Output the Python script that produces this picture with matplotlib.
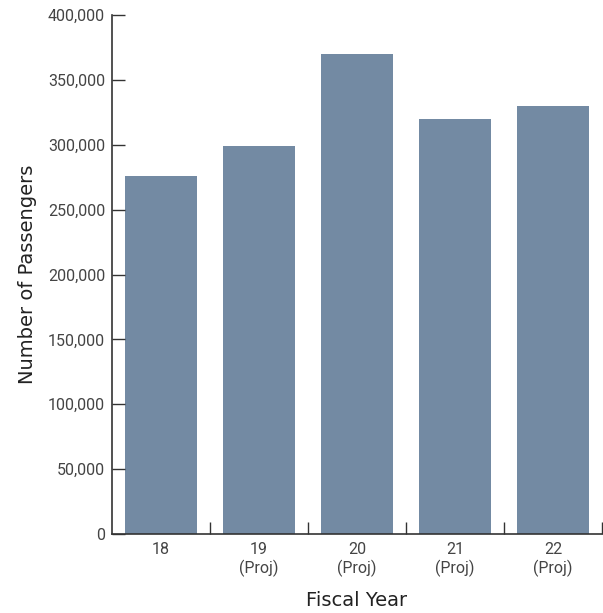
import matplotlib.pyplot as plt
from matplotlib.ticker import FuncFormatter

years = ["18", "19\n(Proj)", "20\n(Proj)", "21\n(Proj)", "22\n(Proj)"]
passengers = [276000, 299000, 370000, 320000, 330000]

fig = plt.figure(figsize=(6.03, 6.13), dpi=100)
ax = fig.add_axes([112 / 603, 79 / 613, 490 / 603, 519 / 613])

x = range(len(years))
ax.bar(x, passengers, width=0.725, color="#738aa3")

ax.set_xlim(-0.5, 4.5)
ax.set_ylim(0, 400000)
ax.set_yticks(range(0, 400001, 50000))
ax.yaxis.set_major_formatter(FuncFormatter(lambda v, p: f"{int(v):,}"))

# ticks between bars, labels under the bars
ax.set_xticks([0.5, 1.5, 2.5, 3.5, 4.5])
ax.set_xticklabels([])
ax.set_xticks(list(x), minor=True)
ax.set_xticklabels(years, minor=True, fontfamily="Roboto", fontsize=11.5, color="#444444")
ax.tick_params(axis="x", which="minor", length=0, pad=6)
ax.tick_params(axis="x", which="major", direction="in", length=9, width=1, color="#333333")
ax.tick_params(axis="y", direction="in", length=9, width=1, color="#333333", pad=5,
               labelsize=11.5, labelcolor="#444444")
for lab in ax.get_yticklabels():
    lab.set_fontfamily("Roboto")

for s in ["top", "right"]:
    ax.spines[s].set_visible(False)
for s in ["left", "bottom"]:
    ax.spines[s].set_color("#333333")
    ax.spines[s].set_linewidth(1.2)

ax.set_xlabel("Fiscal Year", fontsize=14, color="#222222", labelpad=10)
ax.set_ylabel("Number of Passengers", fontsize=14, color="#222222", labelpad=8)

fig.savefig("out.png", dpi=100)
